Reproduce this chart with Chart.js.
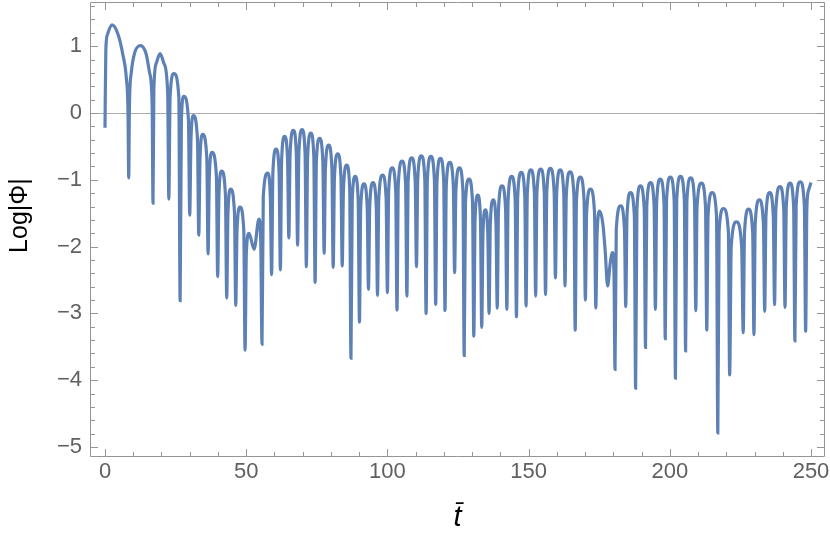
<!DOCTYPE html>
<html>
<head>
<meta charset="utf-8">
<script src="https://cdn.jsdelivr.net/npm/chart.js@4"></script>
<style>
  html, body { margin: 0; padding: 0; background: #ffffff; }
  #c { display: block; }
</style>
</head>
<body>
<canvas id="c" width="830" height="545"></canvas>
<script>
// ---- Data (t-bar, Log|Phi|) ----
// Ends of the curve
const endT = [0, 250];
const endV = [-0.22, -1.04];

// Sharp dips (cusps)
const cuspT = [8.4,17.0,22.6,26.6,30.0,33.2,36.5,39.9,43.1,46.3,49.6,55.6,59.0,62.1,65.1,68.2,71.3,74.4,77.6,80.8,84.0,87.1,90.1,93.3,96.5,100.0,103.4,106.9,110.3,113.7,117.1,120.4,123.8,127.2,130.6,133.4,136.0,138.9,142.3,145.7,149.1,152.5,156.0,159.5,162.9,166.5,170.1,173.8,180.6,184.4,187.9,191.4,194.9,198.4,202.0,205.6,209.2,213.1,217.0,221.2,226.0,229.8,233.6,237.1,240.8,244.3,248.1];
const cuspV = [-0.97,-1.35,-1.29,-2.81,-1.53,-1.83,-2.11,-2.45,-2.77,-2.88,-3.55,-3.46,-2.42,-2.35,-1.87,-1.98,-2.30,-2.54,-2.10,-2.31,-2.29,-3.67,-3.13,-2.64,-2.73,-2.69,-2.95,-2.74,-2.30,-3.00,-2.87,-2.96,-2.39,-3.63,-3.34,-3.21,-3.00,-2.92,-2.94,-3.05,-2.89,-2.74,-2.72,-2.47,-2.59,-3.25,-2.80,-2.92,-3.84,-2.90,-4.12,-3.51,-2.94,-3.38,-3.97,-3.56,-2.96,-3.25,-4.79,-3.92,-3.29,-3.32,-2.97,-2.87,-2.91,-3.41,-3.27];

// Arch tops (crests)
const crestT = [2.5,12.6,19.5,24.4,27.9,31.3,34.6,37.9,41.3,44.5,47.8,51.0,54.5,57.6,60.6,63.6,66.7,69.8,72.9,76.0,79.2,82.4,85.6,88.6,91.7,94.9,98.3,101.7,105.2,108.6,112.0,115.4,118.8,122.1,125.5,128.9,132.0,134.7,137.5,140.6,144.0,147.4,150.8,154.3,157.7,161.2,164.7,168.3,171.9,175.2,179.7,182.6,186.1,189.6,193.2,196.6,200.2,203.8,207.4,211.2,215.0,219.0,223.6,227.9,231.7,235.4,239.0,242.6,246.2];
const crestV = [1.32,1.01,0.89,0.59,0.25,-0.04,-0.32,-0.59,-0.87,-1.14,-1.41,-1.80,-1.59,-0.90,-0.54,-0.35,-0.26,-0.25,-0.30,-0.38,-0.48,-0.61,-0.78,-0.95,-1.06,-1.04,-0.93,-0.82,-0.72,-0.67,-0.64,-0.65,-0.68,-0.74,-0.82,-0.99,-1.23,-1.45,-1.30,-1.09,-0.95,-0.89,-0.85,-0.84,-0.83,-0.85,-0.88,-0.96,-1.14,-1.47,-2.09,-1.39,-1.19,-1.09,-1.04,-0.99,-0.96,-0.95,-0.97,-1.05,-1.19,-1.43,-1.63,-1.44,-1.30,-1.19,-1.10,-1.05,-1.03];

// Smooth (non-cusp) local minima
const troughT = [52.8, 178.0];
const troughV = [-2.04, -2.59];

// Points on the arch shoulders
const shoulderPts = [
  [0.3,0.95],[0.9,1.18],[4.6,1.18],[6.3,0.88],[7.6,0.50],[8.15,0.02],
  [8.65,0.10],[9.3,0.60],[10.5,0.90],[14.6,0.88],[15.8,0.60],[16.7,0.12],
  [17.3,0.35],[18.2,0.75],[20.9,0.74],[22.2,0.30],
  [23.05,0.24],[26.15,0.24],
  [27.05,-0.10],[29.55,-0.10],
  [30.45,-0.39],[32.75,-0.39],
  [33.65,-0.67],[36.05,-0.67],
  [36.95,-0.94],[39.45,-0.94],
  [40.35,-1.22],[42.65,-1.22],
  [43.55,-1.49],[45.85,-1.49],
  [46.75,-1.76],[49.15,-1.76],
  [50.05,-2.10],[55.15,-1.92],
  [56.05,-1.25],[58.55,-1.25],
  [59.45,-0.89],[61.65,-0.89],
  [62.55,-0.70],[64.65,-0.70],
  [65.55,-0.61],[67.75,-0.61],
  [68.65,-0.60],[70.85,-0.60],
  [71.75,-0.65],[73.95,-0.65],
  [74.85,-0.73],[77.15,-0.73],
  [78.05,-0.83],[80.35,-0.83],
  [81.25,-0.96],[83.55,-0.96],
  [84.45,-1.13],[86.65,-1.13],
  [87.55,-1.30],[89.65,-1.30],
  [90.55,-1.41],[92.85,-1.41],
  [93.75,-1.39],[96.05,-1.39],
  [96.95,-1.28],[99.55,-1.28],
  [100.45,-1.17],[102.95,-1.17],
  [103.85,-1.07],[106.45,-1.07],
  [107.35,-1.02],[109.85,-1.02],
  [110.75,-0.99],[113.25,-0.99],
  [114.15,-1.00],[116.65,-1.00],
  [117.55,-1.03],[119.95,-1.03],
  [120.85,-1.09],[123.35,-1.09],
  [124.25,-1.17],[126.75,-1.17],
  [127.65,-1.34],[130.15,-1.34],
  [131.05,-1.58],[132.95,-1.58],
  [133.85,-1.80],[135.55,-1.80],
  [136.45,-1.65],[138.45,-1.65],
  [139.35,-1.44],[141.85,-1.44],
  [142.75,-1.30],[145.25,-1.30],
  [146.15,-1.24],[148.65,-1.24],
  [149.55,-1.20],[152.05,-1.20],
  [152.95,-1.19],[155.55,-1.19],
  [156.45,-1.18],[159.05,-1.18],
  [159.95,-1.20],[162.45,-1.20],
  [163.35,-1.23],[166.05,-1.23],
  [166.95,-1.31],[169.65,-1.31],
  [170.55,-1.49],[173.35,-1.49],
  [174.25,-1.82],[176.3,-1.66],[177.1,-2.05],[178.9,-2.25],[180.25,-2.44],
  [181.05,-1.74],[183.95,-1.74],
  [184.85,-1.54],[187.45,-1.54],
  [188.35,-1.44],[190.95,-1.44],
  [191.85,-1.39],[194.45,-1.39],
  [195.35,-1.34],[197.95,-1.34],
  [198.85,-1.31],[201.55,-1.31],
  [202.45,-1.30],[205.15,-1.30],
  [206.05,-1.32],[208.75,-1.32],
  [209.65,-1.40],[212.65,-1.40],
  [213.55,-1.54],[216.55,-1.54],
  [217.45,-1.78],[220.75,-1.78],
  [221.75,-2.00],[225.45,-2.00],
  [226.45,-1.79],[229.35,-1.79],
  [230.25,-1.65],[233.15,-1.65],
  [234.05,-1.54],[236.65,-1.54],
  [237.55,-1.45],[240.35,-1.45],
  [241.25,-1.40],[243.85,-1.40],
  [244.75,-1.38],[247.65,-1.38],
  [248.55,-1.40],[249.2,-1.15]
];

// Tick labels
const xTickValues = [0, 50, 100, 150, 200, 250];
const xTickLabels = ['0', '50', '100', '150', '200', '250'];
const yTickValues = [-5, -4, -3, -2, -1, 0, 1];
const yTickLabels = ['\u22125', '\u22124', '\u22123', '\u22122', '\u22121', '0', '1'];

// ---- Build the series table ----
const pts = [];
endT.forEach((t, i) => pts.push({x: t, y: endV[i]}));
cuspT.forEach((t, i) => pts.push({x: t, y: cuspV[i]}));
crestT.forEach((t, i) => pts.push({x: t, y: crestV[i]}));
troughT.forEach((t, i) => pts.push({x: t, y: troughV[i]}));
shoulderPts.forEach(p => pts.push({x: p[0], y: p[1]}));
pts.sort((a, b) => a.x - b.x);

// minor tick positions (frame decoration)
const xMinor = [];
for (let v = 0; v <= 250; v += 10) xMinor.push(v);
const yMinor = [];
for (let k = -25; k <= 8; k++) yMinor.push(k / 5);

const FRAME = '#959595';
const frameTicks = {
  id: 'frameTicks',
  beforeDatasetsDraw(chart) {
    const {ctx, chartArea: a, scales: {x, y}} = chart;
    ctx.save();
    ctx.strokeStyle = FRAME;
    ctx.lineWidth = 1;
    const L = Math.round(a.left) + 0.5, R = Math.round(a.right) - 0.5;
    const T = Math.round(a.top) + 0.5, B = Math.round(a.bottom) - 0.5;
    ctx.beginPath();
    ctx.rect(L, T, R - L, B - T);
    ctx.stroke();
    ctx.beginPath();
    xMinor.forEach(v => {
      const p = Math.round(x.getPixelForValue(v)) + 0.5;
      const len = (v % 50 === 0) ? 7.5 : 4.5;
      ctx.moveTo(p, B); ctx.lineTo(p, B - len);
      ctx.moveTo(p, T); ctx.lineTo(p, T + len);
    });
    yMinor.forEach(v => {
      const p = Math.round(y.getPixelForValue(v)) + 0.5;
      const major = Math.abs(v - Math.round(v)) < 1e-6;
      const len = major ? 7.5 : 4.5;
      ctx.moveTo(L, p); ctx.lineTo(L + len, p);
      ctx.moveTo(R, p); ctx.lineTo(R - len, p);
    });
    ctx.stroke();
    ctx.restore();
  }
};

const tickFont = {family: "'Liberation Sans', Arial, sans-serif", size: 22};

new Chart(document.getElementById('c'), {
  type: 'line',
  data: {
    datasets: [{
      data: pts,
      borderColor: '#5E81B5',
      borderWidth: 3.2,
      pointRadius: 0,
      fill: false,
      cubicInterpolationMode: 'monotone'
    }]
  },
  options: {
    responsive: false,
    animation: false,
    devicePixelRatio: 1,
    layout: {padding: {top: 2, right: 5, left: 0, bottom: 0}},
    plugins: {legend: {display: false}, tooltip: {enabled: false}},
    scales: {
      x: {
        type: 'linear',
        min: -5.31,
        max: 254.96,
        grid: {display: false, drawTicks: false},
        border: {display: false},
        afterBuildTicks: s => { s.ticks = xTickValues.map(v => ({value: v})); },
        afterFit: s => { s.height = 88; s.paddingLeft = 0; s.paddingRight = 0; },
        ticks: {
          autoSkip: false,
          maxRotation: 0,
          padding: 2,
          color: '#606060',
          font: tickFont,
          callback: (v, i) => xTickLabels[i]
        },
        title: {
          display: true,
          text: 't\u0304',
          color: '#000000',
          font: {family: "'Liberation Sans', Arial, sans-serif", size: 29, style: 'italic'},
          padding: {top: 0, bottom: 10}
        }
      },
      y: {
        type: 'linear',
        min: -5.15,
        max: 1.662,
        grid: {
          drawTicks: false,
          lineWidth: 1,
          color: c => (c.tick && c.tick.value === 0) ? '#ababab' : 'rgba(0,0,0,0)'
        },
        border: {display: false},
        afterBuildTicks: s => { s.ticks = yTickValues.map(v => ({value: v})); },
        afterFit: s => { s.width = 90; s.paddingTop = 0; s.paddingBottom = 0; },
        ticks: {
          autoSkip: false,
          padding: 8,
          color: '#606060',
          font: tickFont,
          callback: (v, i) => yTickLabels[i]
        },
        title: {
          display: true,
          text: '    Log|\u03A6|',
          color: '#000000',
          font: {family: "'Liberation Sans', Arial, sans-serif", size: 25},
          padding: {top: 5, bottom: 0}
        }
      }
    }
  },
  plugins: [frameTicks]
});
</script>
</body>
</html>
